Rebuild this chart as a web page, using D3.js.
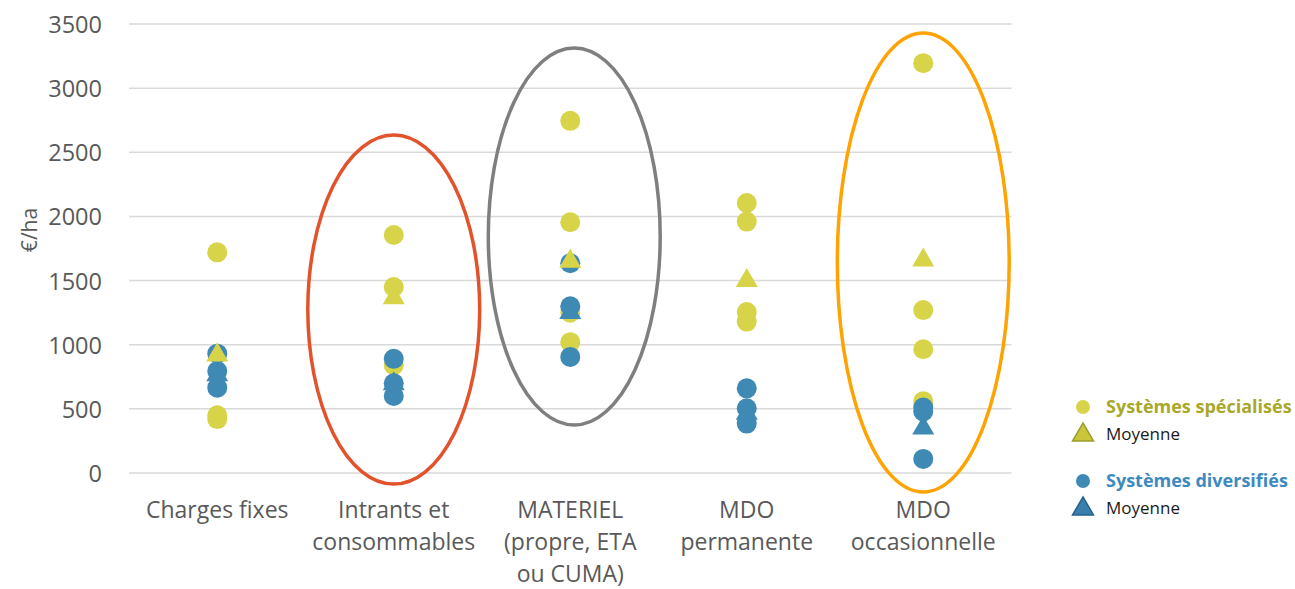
<!DOCTYPE html>
<html>
<head>
<meta charset="utf-8">
<script src="https://cdn.jsdelivr.net/npm/d3@7"></script>
<style>
  html, body { margin: 0; padding: 0; background: #fff; }
  svg { display: block; font-family: "Open Sans", Lato, sans-serif; }
</style>
</head>
<body>
<svg id="chart" width="1295" height="589"></svg>
<script>
// Cost categories (label lines)
const categories = ["Charges fixes", "Intrants et consommables", "MATERIEL (propre, ETA ou CUMA)", "MDO permanente", "MDO occasionnelle"];
const categoryLines = [
  ["Charges fixes"],
  ["Intrants et", "consommables"],
  ["MATERIEL", "(propre, ETA", "ou CUMA)"],
  ["MDO", "permanente"],
  ["MDO", "occasionnelle"]
];
// Farm values (€/ha), specialised systems
const specialises = [
  [1720, 450, 420],
  [1855, 1450, 840],
  [2745, 1955, 1250, 1020],
  [2105, 1960, 1255, 1180],
  [3195, 1270, 965, 560]
];
const moyenneSpecialises = [935, 1380, 1665, 1515, 1675];
// Farm values (€/ha), diversified systems
const diversifies = [
  [930, 795, 665],
  [890, 700, 600],
  [1635, 1300, 905],
  [660, 505, 385],
  [510, 480, 110]
];
const moyenneDiversifies = [780, 710, 1265, 480, 365];
const yTicks = [0, 500, 1000, 1500, 2000, 2500, 3000, 3500];
// Highlight rings: category index and value span
const highlights = [
  { cat: 1, top: 2634, bottom: -86, color: "#e2522b" },
  { cat: 2, top: 3313, bottom: 374, color: "#7f7f7f" },
  { cat: 4, top: 3430, bottom: -148, color: "#ffa303" }
];

const YELLOW = "#d8d44a", BLUE = "#3f89b5";
const svg = d3.select("#chart");

const x = d3.scaleBand().domain(categories).range([129, 1011.5]);
const y = d3.scaleLinear().domain([0, 3500]).range([473, 24]);
const cx = c => x(c) + x.bandwidth() / 2;

// Gridlines
svg.append("g").selectAll("line").data(yTicks).join("line")
  .attr("x1", 129).attr("x2", 1011.5)
  .attr("y1", d => y(d)).attr("y2", d => y(d))
  .attr("stroke", "#d9d9d9").attr("stroke-width", 1.5);

// Y axis labels
const yAxis = svg.append("g").attr("transform", "translate(102,0)")
  .call(d3.axisLeft(y).tickValues(yTicks).tickSize(0).tickPadding(0).tickFormat(d3.format("d")));
yAxis.select(".domain").remove();
yAxis.selectAll("text").attr("font-size", 23.5).attr("fill", "#595959")
  .attr("font-family", "'Open Sans', sans-serif").attr("dy", "0.36em");

svg.append("text").attr("transform", "translate(37,230) rotate(-90)")
  .attr("text-anchor", "middle").attr("font-size", 21).attr("fill", "#595959").text("€/ha");

// Category labels
const xl = svg.append("g");
categories.forEach((c, i) => {
  const t = xl.append("text").attr("x", cx(c)).attr("y", 518)
    .attr("text-anchor", "middle").attr("font-size", 23).attr("fill", "#595959");
  categoryLines[i].forEach((line, j) => {
    t.append("tspan").attr("x", cx(c)).attr("dy", j === 0 ? 0 : 32).text(line);
  });
});

const tri = d3.symbol().type(d3.symbolTriangle).size(210);

function flatten(arr) {
  return arr.flatMap((vals, i) => vals.map(v => ({ c: categories[i], v })));
}

// Specialised farms
svg.append("g").selectAll("circle").data(flatten(specialises)).join("circle")
  .attr("cx", d => cx(d.c)).attr("cy", d => y(d.v)).attr("r", 10).attr("fill", YELLOW);
// Diversified farms
svg.append("g").selectAll("circle").data(flatten(diversifies)).join("circle")
  .attr("cx", d => cx(d.c)).attr("cy", d => y(d.v)).attr("r", 10).attr("fill", BLUE);
// Averages
svg.append("g").selectAll("path").data(moyenneSpecialises).join("path")
  .attr("d", tri)
  .attr("transform", (d, i) => `translate(${cx(categories[i])},${y(d) + 2})`)
  .attr("fill", YELLOW);
svg.append("g").selectAll("path").data(moyenneDiversifies).join("path")
  .attr("d", tri)
  .attr("transform", (d, i) => `translate(${cx(categories[i])},${y(d) + 2})`)
  .attr("fill", BLUE);

// Highlight rings
svg.append("g").selectAll("ellipse").data(highlights).join("ellipse")
  .attr("cx", d => cx(categories[d.cat]) + (d.cat === 2 ? 4 : 0))
  .attr("cy", d => (y(d.top) + y(d.bottom)) / 2)
  .attr("rx", x.bandwidth() * 0.487)
  .attr("ry", d => (y(d.bottom) - y(d.top)) / 2)
  .attr("fill", "none").attr("stroke", d => d.color).attr("stroke-width", 3.5);

// Legend
const legend = svg.append("g");
const legendItems = [
  { y: 407, shape: "circle", fill: YELLOW, stroke: null, text: "Systèmes spécialisés", color: "#a9a828", bold: true },
  { y: 434, shape: "tri", fill: "#c9c63c", stroke: "#9d9b2a", text: "Moyenne", color: "#1a1a1a", bold: false },
  { y: 481, shape: "circle", fill: BLUE, stroke: null, text: "Systèmes diversifiés", color: "#3c8ac0", bold: true },
  { y: 508, shape: "tri", fill: "#3a80ad", stroke: "#25618a", text: "Moyenne", color: "#1a1a1a", bold: false }
];
legendItems.forEach(it => {
  if (it.shape === "circle") {
    legend.append("circle").attr("cx", 1083).attr("cy", it.y).attr("r", 7).attr("fill", it.fill);
  } else {
    legend.append("path").attr("d", d3.symbol().type(d3.symbolTriangle).size(190))
      .attr("transform", `translate(1083,${it.y + 1})`)
      .attr("fill", it.fill).attr("stroke", it.stroke).attr("stroke-width", 1.5);
  }
  legend.append("text").attr("x", 1106).attr("y", it.y).attr("dy", "0.35em")
    .attr("font-size", it.bold ? 18 : 17).attr("font-weight", it.bold ? 700 : 400)
    .attr("fill", it.color).text(it.text);
});
</script>
</body>
</html>
